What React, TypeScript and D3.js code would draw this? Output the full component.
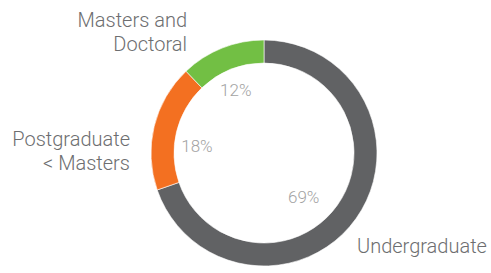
import React from "react";
import * as d3 from "d3";

const categories = ["Undergraduate", "Postgraduate < Masters", "Masters and Doctoral"];
const values = [69, 18, 12];
const pctLabels = ["69%", "18%", "12%"];
const colors = ["#616264", "#f37021", "#72bf44"];
const outerLabels = [["Undergraduate"], ["Postgraduate", "< Masters"], ["Masters and", "Doctoral"]];

const W = 491;
const H = 273;
const cx = 264;
const cy = 153;
const outerR = 113;
const innerR = 90;

export default function App() {
  const pie = d3.pie<number>().sort(null).value((d) => d)(values);
  const arc = d3.arc<d3.PieArcDatum<number>>().innerRadius(innerR).outerRadius(outerR);
  const labelArc = d3.arc<d3.PieArcDatum<number>>().innerRadius(68).outerRadius(68);
  const font = "Roboto, 'Open Sans', sans-serif";
  const outerPos: [number, number, string][] = [
    [357, 253, "start"],
    [130, 146, "end"],
    [187, 27, "end"],
  ];
  const pctAnchor = ["end", "middle", "middle"];
  const pctNudge: [number, number][] = [
    [0, 5],
    [-1, 9],
    [-3, 0],
  ];
  return (
    <svg width={W} height={H} style={{ position: "absolute", left: 0, top: 0 }}>
      <rect width={W} height={H} fill="#fff" />
      <g transform={`translate(${cx},${cy})`}>
        {pie.map((p, i) => (
          <path key={i} d={arc(p) || ""} fill={colors[i]} stroke="#fff" strokeWidth={0.6} />
        ))}
        {pie.map((p, i) => {
          const [x, y] = labelArc.centroid(p);
          return (
            <text
              key={i}
              x={x + pctNudge[i][0]}
              y={y + pctNudge[i][1]}
              dy="0.35em"
              textAnchor={pctAnchor[i]}
              fontFamily={font}
              fontWeight={300}
              fontSize={17}
              fill="#a3a3a3"
            >
              {pctLabels[i]}
            </text>
          );
        })}
      </g>
      {outerLabels.map((lines, i) =>
        lines.map((l, j) => (
          <text
            key={`${i}-${j}`}
            x={outerPos[i][0]}
            y={outerPos[i][1] + j * 24}
            textAnchor={outerPos[i][2]}
            fontFamily={font}
            fontWeight={300}
            fontSize={20}
            fill="#6d6e70"
          >
            {l}
          </text>
        ))
      )}
    </svg>
  );
}
